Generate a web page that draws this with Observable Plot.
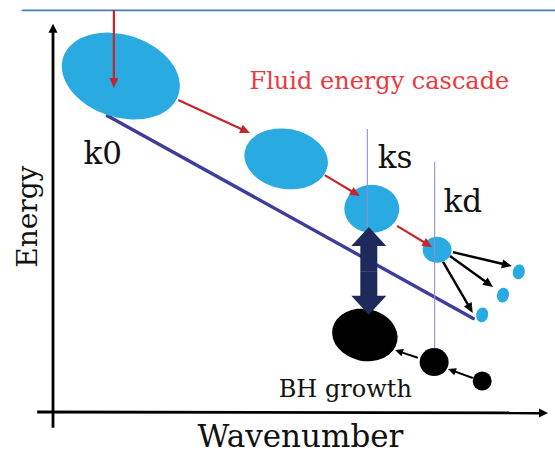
<!DOCTYPE html>
<html>
<head>
<meta charset="utf-8">
<script src="https://cdn.jsdelivr.net/npm/d3@7"></script>
<script src="https://cdn.jsdelivr.net/npm/@observablehq/plot@0.6"></script>
<style>
  html, body { margin: 0; padding: 0; background: #fff; overflow: hidden; }
  #chart svg { display: block; }
</style>
</head>
<body>
<div id="chart"></div>
<script>
// ---- Data (diagram units: wavenumber 0–100, energy 0–100) ----
const topLine = [{x: -6.3, y: 103.9}, {x: 101.4, y: 103.9}];
const axisArrows = [
  {x1: 0, y1: -4.1, x2: 0, y2: 100.3},
  {x1: -3.2, y1: 0, x2: 100, y2: -0.26}
];
const spectrum = [{x: 10.9, y: 76.7}, {x: 84.8, y: 24.3}];
const fluidEddies = [
  {x: 13.7, y: 86.8, rx: 12.24, ry: 10.67, tilt: 18},
  {x: 47.1, y: 65.4, rx: 8.5, ry: 7.75, tilt: 10},
  {x: 64.4, y: 52.5, rx: 5.56, ry: 6.2, tilt: 0},
  {x: 77.6, y: 41.9, rx: 2.93, ry: 3.36, tilt: 0},
  {x: 94.1, y: 36.2, rx: 1.21, ry: 1.94, tilt: 12},
  {x: 90.9, y: 30.2, rx: 1.21, ry: 1.94, tilt: 12},
  {x: 86.7, y: 25.1, rx: 1.21, ry: 1.94, tilt: 12}
];
const blackHoles = [
  {x: 63.0, y: 19.9, rx: 6.67, ry: 6.72, tilt: 12},
  {x: 77.0, y: 12.9, rx: 2.93, ry: 3.62, tilt: 0},
  {x: 86.7, y: 8.0, rx: 1.92, ry: 2.45, tilt: 0}
];
const scaleLines = [
  {x: 63.4, y1: 73.1, y2: 30},   // ks
  {x: 77.0, y1: 64.6, y2: 16.5}  // kd
];
const cascadeArrows = [
  {x1: 12.3, y1: 103.9, x2: 12.3, y2: 83.7},
  {x1: 25.3, y1: 80.6, x2: 39.8, y2: 72.1},
  {x1: 54.9, y1: 61.2, x2: 62.0, y2: 55.8},
  {x1: 69.5, y1: 48.1, x2: 76.6, y2: 42.6}
];
const dissipationArrows = [
  {x1: 80.8, y1: 41.3, x2: 92.7, y2: 37.7},
  {x1: 80.2, y1: 40.3, x2: 88.9, y2: 32.3},
  {x1: 78.8, y1: 38.8, x2: 84.8, y2: 25.6}
];
const growthArrows = [
  {x1: 73.7, y1: 14.0, x2: 69.1, y2: 16.0},
  {x1: 84.8, y1: 8.8, x2: 79.8, y2: 11.1}
];
const exchangeArrow = [
  {x1: 63.8, y1: 36.4, x2: 63.8, y2: 47.8},
  {x1: 63.8, y1: 36.4, x2: 63.8, y2: 25.1}
];
const redLabels = [{x: 39.6, y: 83.7, text: "Fluid energy cascade"}];
const scaleLabels = [
  {x: 6.06, y: 64.3, text: "k0"},
  {x: 65.5, y: 63.3, text: "ks"},
  {x: 78.8, y: 51.7, text: "kd"}
];
const bhLabel = [{x: 45.5, y: 3.9, text: "BH growth"}];
const xTitle = [{x: 49.9, y: -8.8, text: "Wavenumber"}];
const yTitle = [{x: -3.43, y: 50.6, text: "Energy"}];

// ---- Helper marks ----
function arrowMark(data, {stroke, strokeWidth, headLength, headWidth}) {
  return Plot.link(data, {
    x1: "x1", y1: "y1", x2: "x2", y2: "y2", stroke,
    render(index, scales, values) {
      const g = d3.create("svg:g");
      for (const i of index) {
        const x1 = values.x1[i], y1 = values.y1[i], x2 = values.x2[i], y2 = values.y2[i];
        const dx = x2 - x1, dy = y2 - y1, len = Math.hypot(dx, dy);
        const ux = dx / len, uy = dy / len;
        const bx = x2 - ux * headLength, by = y2 - uy * headLength;
        g.append("line")
          .attr("x1", x1).attr("y1", y1)
          .attr("x2", bx + ux).attr("y2", by + uy)
          .attr("stroke", stroke).attr("stroke-width", strokeWidth);
        g.append("path")
          .attr("d", `M${x2},${y2}L${bx - uy * headWidth},${by + ux * headWidth}L${bx + uy * headWidth},${by - ux * headWidth}Z`)
          .attr("fill", stroke);
      }
      return g.node();
    }
  });
}
function ellipseMark(data, {fill}) {
  return Plot.dot(data, {
    x: "x", y: "y", fill,
    render(index, scales, values) {
      const g = d3.create("svg:g");
      for (const i of index) {
        const d = data[i];
        const cx = values.x[i], cy = values.y[i];
        const rx = Math.abs(scales.x(d.x + d.rx) - cx);
        const ry = Math.abs(scales.y(d.y + d.ry) - cy);
        g.append("ellipse")
          .attr("cx", cx).attr("cy", cy).attr("rx", rx).attr("ry", ry)
          .attr("fill", fill)
          .attr("transform", `rotate(${d.tilt} ${cx} ${cy})`);
      }
      return g.node();
    }
  });
}

const chart = Plot.plot({
  width: 555,
  height: 453,
  margin: 0,
  x: {domain: [0, 100], range: [53, 548], axis: null},
  y: {domain: [0, 100], range: [412, 25], axis: null},
  style: {background: "#fff", fontFamily: "DejaVu Serif", overflow: "visible"},
  marks: [
    Plot.line(topLine, {x: "x", y: "y", stroke: "#4a7ebb", strokeWidth: 1.6}),
    arrowMark(axisArrows, {stroke: "#000", strokeWidth: 2.8, headLength: 9, headWidth: 4.5}),
    Plot.line(spectrum, {x: "x", y: "y", stroke: "#3d3d9e", strokeWidth: 3.4}),
    ellipseMark(fluidEddies, {fill: "#29abe2"}),
    ellipseMark(blackHoles, {fill: "#000"}),
    Plot.ruleX(scaleLines, {x: "x", y1: "y1", y2: "y2", stroke: "#8f8fd0", strokeWidth: 1.1}),
    arrowMark(exchangeArrow, {stroke: "#1f2a5c", strokeWidth: 17, headLength: 19, headWidth: 17.5}),
    arrowMark(cascadeArrows, {stroke: "#c1272d", strokeWidth: 2.2, headLength: 10, headWidth: 4.5}),
    arrowMark(dissipationArrows, {stroke: "#000", strokeWidth: 2.4, headLength: 10, headWidth: 4.5}),
    arrowMark(growthArrows, {stroke: "#000", strokeWidth: 2, headLength: 8, headWidth: 3.8}),
    Plot.text(redLabels, {x: "x", y: "y", text: "text", fill: "#e93a40", fontSize: 24, textAnchor: "start", lineAnchor: "bottom"}),
    Plot.text(scaleLabels, {x: "x", y: "y", text: "text", fill: "#111", fontSize: 31, textAnchor: "start", lineAnchor: "bottom"}),
    Plot.text(bhLabel, {x: "x", y: "y", text: "text", fill: "#111", fontSize: 24, textAnchor: "start", lineAnchor: "bottom"}),
    Plot.text(xTitle, {x: "x", y: "y", text: "text", fill: "#111", fontSize: 31, textAnchor: "middle", lineAnchor: "bottom"}),
    Plot.text(yTitle, {x: "x", y: "y", text: "text", fill: "#111", fontSize: 28, textAnchor: "middle", lineAnchor: "bottom", rotate: -90})
  ]
});
document.getElementById("chart").append(chart);
</script>
</body>
</html>
